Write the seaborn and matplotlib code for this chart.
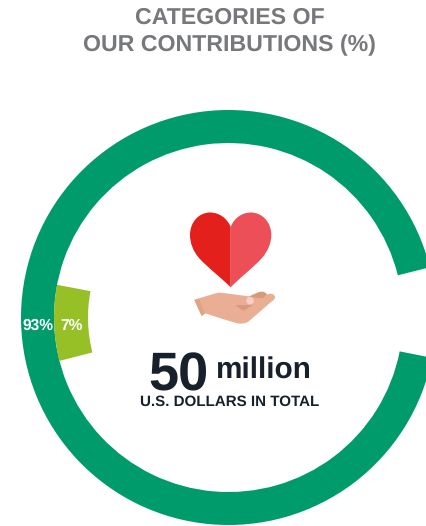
import matplotlib
matplotlib.use("Agg")
import matplotlib.pyplot as plt
import seaborn as sns
from matplotlib.patches import PathPatch, Polygon, Circle
from matplotlib.path import Path

# Contribution shares, in percent
categories = ["Main category", "Second category"]
shares = [93, 7]
share_labels = ["93%", "7%"]
title_lines = ["CATEGORIES OF", "OUR CONTRIBUTIONS (%)"]
total_amount = "50"
total_unit = "million"
total_caption = "U.S. DOLLARS IN TOTAL"

GREEN = "#009B6B"
LIME = "#97BF26"
INK = "#17202B"
GREY = "#77787B"
W, H = 426, 526

sns.set_theme(style="white")
plt.rcParams["font.family"] = ["Liberation Sans", "DejaVu Sans"]
plt.rcParams["text.hinting"] = "no_hinting"

fig = plt.figure(figsize=(W / 100, H / 100), dpi=100)
ax = fig.add_axes([0, 0, 1, 1])


def yy(py):
    # Layout is worked out from the top edge of the figure
    return H - py


centre = (228.5, yy(317.5))

# Outer ring: the larger share, the smaller one left open as a gap
ax.pie(shares, radius=207.5, center=centre, startangle=14, counterclock=True,
       colors=[GREEN, "none"], frame=True,
       wedgeprops=dict(width=33, linewidth=0))

# Inner band: the smaller share, sitting just inside the ring
ax.pie(shares[::-1], radius=174.5, center=centre, startangle=169.2, counterclock=True,
       colors=[LIME, "none"], frame=True,
       wedgeprops=dict(width=34, linewidth=0))

ax.set_xlim(0, W)
ax.set_ylim(0, H)
ax.set_aspect("equal")
ax.axis("off")


def curve(points, **kw):
    # points: start, then (ctrl, ctrl, end) triples of cubic segments
    verts = [(x, yy(y)) for x, y in points]
    codes = [Path.MOVETO] + [Path.CURVE4] * (len(verts) - 1)
    verts.append(verts[0])
    codes.append(Path.CLOSEPOLY)
    ax.add_patch(PathPatch(Path(verts, codes), linewidth=0, **kw))


# Heart, left and right halves
curve([(230.7, 287.5),
       (224, 280), (208, 268), (199, 258),
       (193, 251), (190, 243), (190, 235),
       (190, 222), (199, 212.5), (210, 212.5),
       (219, 212.5), (227, 218), (230.7, 227)], facecolor="#E3201B")
curve([(230.7, 287.5),
       (237, 280), (253, 268), (262, 258),
       (268, 251), (271.3, 243), (271.3, 235),
       (271.3, 222), (262, 212.5), (251, 212.5),
       (242, 212.5), (234, 218), (230.7, 227)], facecolor="#EC4F57")

# Open hand under the heart: back finger, palm, wrist fold, crease, fingertip
curve([(248, 297),
       (252, 295), (257, 292.5), (260, 291.8),
       (264, 291), (267, 293), (267.5, 296),
       (264, 300), (260, 302), (255, 304)], facecolor="#D99A7C")
curve([(194.3, 300),
       (203, 297), (211, 294.5), (218.3, 292.7),
       (226, 293), (238, 295), (250, 296.5),
       (254, 298), (260, 298), (263, 298),
       (265, 296), (266, 295), (267.5, 294.5),
       (270, 293), (274, 293.5), (275, 296.5),
       (275.5, 299), (273, 300.5), (271, 302),
       (263, 309), (255, 316), (248.3, 321.7),
       (244, 324), (240, 324), (236, 323),
       (226, 320), (215, 316.5), (205, 313.3),
       (204, 314), (203, 315), (201.7, 316)], facecolor="#E9AE93")
ax.add_patch(Polygon([(194.3, yy(300)), (201.7, yy(316)), (205, yy(313.3)), (199, yy(298.5))],
                     facecolor="#DFA487", linewidth=0))
ax.add_patch(Polygon([(235, yy(305)), (253.3, yy(305)), (243.3, yy(310.7))],
                     facecolor="#D99A7C", linewidth=0))
ax.add_patch(Circle((250, yy(300.7)), 3.8, facecolor="#F6CFC6", linewidth=0))

# Titles and totals
ax.text(229.5, yy(18), title_lines[0], ha="center", va="center", fontsize=16.7,
        fontweight="bold", color=GREY)
ax.text(229.5, yy(45), title_lines[1], ha="center", va="center", fontsize=16.7,
        fontweight="bold", color=GREY)
ax.text(178.5, yy(390), total_amount, ha="center", va="baseline", fontsize=39,
        fontweight="bold", color=INK)
ax.text(215, yy(379), total_unit, ha="left", va="baseline", fontsize=21.4,
        fontweight="bold", color=INK)
ax.text(230, yy(405.5), total_caption, ha="center", va="baseline", fontsize=10.9,
        fontweight="bold", color=INK)

# Share labels
ax.text(38, yy(325.5), share_labels[0], ha="center", va="center", fontsize=11.2,
        fontweight="bold", color="white")
ax.text(71.5, yy(325.5), share_labels[1], ha="center", va="center", fontsize=11.2,
        fontweight="bold", color="white")

fig.savefig("out.png", dpi=100)
